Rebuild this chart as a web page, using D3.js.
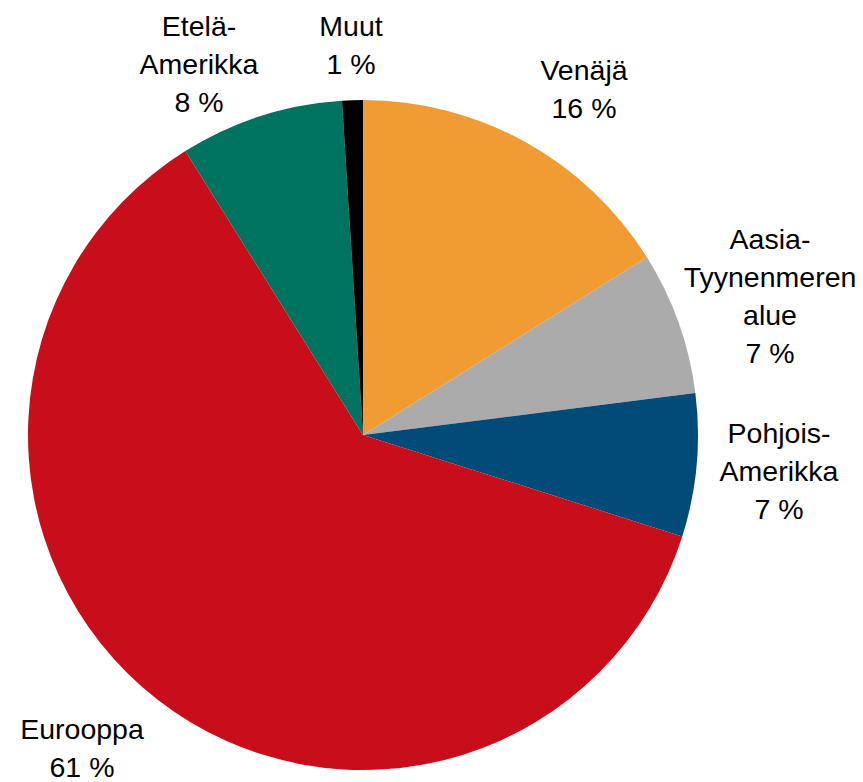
<!DOCTYPE html>
<html>
<head>
<meta charset="utf-8">
<script src="https://cdn.jsdelivr.net/npm/d3@7"></script>
<style>
  body { margin: 0; background: white; }
  text { font-family: "Liberation Sans", Arial, sans-serif; fill: black; }
</style>
</head>
<body>
<div id="chart"></div>
<script>
// Data (clockwise from 12 o'clock)
const regions = ["Venäjä", "Aasia-Tyynenmeren alue", "Pohjois-Amerikka", "Eurooppa", "Etelä-Amerikka", "Muut"];
const shares = [16.1, 6.9, 6.9, 61.2, 7.9, 1.0];
const shareLabels = ["16 %", "7 %", "7 %", "61 %", "8 %", "1 %"];
const labelLines = [["Venäjä"], ["Aasia-", "Tyynenmeren", "alue"], ["Pohjois-", "Amerikka"], ["Eurooppa"], ["Etelä-", "Amerikka"], ["Muut"]];
const colors = ["#F09C32", "#ABABAB", "#004B78", "#C70E1A", "#007260", "#000000"];

var width = 863;
var height = 782;
var cx = 363, cy = 435, radius = 335;

// label anchors (center x, first baseline)
var labelAnchor = [[584, 80], [770, 249], [779, 443], [82, 739], [199, 36], [351, 36]];
var lineHeight = 38;

let svg = d3.select("#chart")
  .append("svg")
  .attr("width", width)
  .attr("height", height)

let pie = d3.pie().sort(null).value(d => d)
let arc = d3.arc().innerRadius(0).outerRadius(radius)

let g = svg.append("g")
  .attr("transform", "translate(" + cx + "," + cy + ")")

g.selectAll("path")
  .data(pie(shares))
  .enter().append("path")
  .attr("d", arc)
  .attr("fill", (d, i) => colors[i])

// Labels
regions.forEach(function (r, i) {
  let lines = labelLines[i].concat([shareLabels[i]])
  let t = svg.append("text")
    .attr("text-anchor", "middle")
    .attr("font-size", "28.5px")
  lines.forEach(function (l, j) {
    t.append("tspan")
      .attr("x", labelAnchor[i][0])
      .attr("y", labelAnchor[i][1] + j * lineHeight)
      .text(l)
  })
})
</script>
</body>
</html>
